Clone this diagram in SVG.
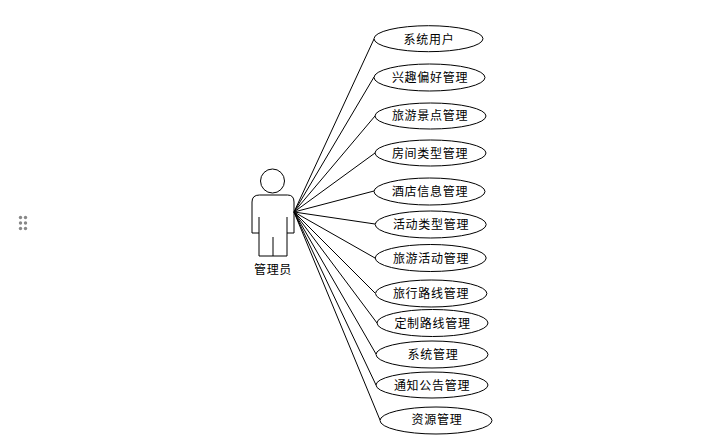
<svg xmlns="http://www.w3.org/2000/svg" width="723" height="441" viewBox="0 0 723 441">
<style>
.s{fill:#fff;stroke:#000;stroke-width:1}
.o{fill:none;stroke:#000;stroke-width:1}
.c{fill:none;stroke:#000;stroke-width:1}
text{font-family:"Noto Sans CJK SC","Liberation Sans",sans-serif;font-size:12px;letter-spacing:.7px;text-anchor:middle;fill:#000}
.d{fill:#888}
</style>
<rect width="723" height="441" fill="#fff"/>
<g id="handle"><circle class="d" cx="20.500" cy="217.500" r="1.700"/><circle class="d" cx="25.500" cy="217.500" r="1.700"/><circle class="d" cx="20.500" cy="223" r="1.700"/><circle class="d" cx="25.500" cy="223" r="1.700"/><circle class="d" cx="20.500" cy="228.500" r="1.700"/><circle class="d" cx="25.500" cy="228.500" r="1.700"/></g>
<g id="connectors">
<path class="c" d="M294 212L374 39"/><path class="c" d="M294 212L374 77"/><path class="c" d="M294 212L375 116"/><path class="c" d="M294 212L375 153"/><path class="c" d="M294 212L374 191"/><path class="c" d="M294 212L375 224"/><path class="c" d="M294 212L375 258"/><path class="c" d="M294 212L375 293"/><path class="c" d="M294 212L377 323"/><path class="c" d="M294 212L376 354"/><path class="c" d="M294 212L376 385"/><path class="c" d="M294 212L380 420"/>
</g>
<g id="actor">
<circle class="o" cx="272.500" cy="181" r="12"/>
<path class="o" d="M259.500 195H287.500Q294 195 294 202V233H287V256H259V233H252V202Q252 195 259.500 195Z"/>
<path class="o" d="M259 217V233M287 217V233M273 237V256"/>
<text x="273" y="274">管理员</text>
</g>
<g id="u1"><ellipse class="s" cx="428.500" cy="38.700" rx="54.500" ry="13"/><text x="429" y="44">系统用户</text></g>
<g id="u2"><ellipse class="s" cx="429.500" cy="77.500" rx="55.500" ry="13.500"/><text x="430" y="82">兴趣偏好管理</text></g>
<g id="u3"><ellipse class="s" cx="430.500" cy="116" rx="55.500" ry="13"/><text x="430" y="120">旅游景点管理</text></g>
<g id="u4"><ellipse class="s" cx="430.500" cy="153" rx="55.500" ry="13"/><text x="430" y="158">房间类型管理</text></g>
<g id="u5"><ellipse class="s" cx="429.500" cy="191.500" rx="55.500" ry="13.500"/><text x="430" y="196">酒店信息管理</text></g>
<g id="u6"><ellipse class="s" cx="430.700" cy="224.500" rx="55.500" ry="13.500"/><text x="431" y="229">活动类型管理</text></g>
<g id="u7"><ellipse class="s" cx="430.700" cy="258" rx="55.500" ry="13.500"/><text x="431" y="263">旅游活动管理</text></g>
<g id="u8"><ellipse class="s" cx="431.200" cy="293.500" rx="55.700" ry="13.500"/><text x="431" y="298">旅行路线管理</text></g>
<g id="u9"><ellipse class="s" cx="432.500" cy="323" rx="55.500" ry="13.500"/><text x="432.500" y="328">定制路线管理</text></g>
<g id="u10"><ellipse class="s" cx="432" cy="354.500" rx="56" ry="13.500"/><text x="433" y="359">系统管理</text></g>
<g id="u11"><ellipse class="s" cx="432" cy="385" rx="56" ry="13"/><text x="432" y="390">通知公告管理</text></g>
<g id="u12"><ellipse class="s" cx="436" cy="420.500" rx="56" ry="13.500"/><text x="437" y="424">资源管理</text></g>
</svg>
